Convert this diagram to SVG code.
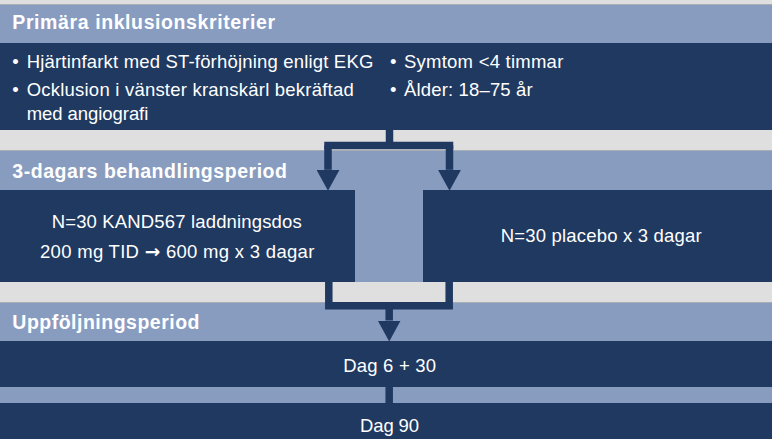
<svg xmlns="http://www.w3.org/2000/svg" width="772" height="439" viewBox="0 0 772 439">
  <defs>
    <style>
      .gray { fill: #dfdfdf; }
      .band { fill: #889cc0; }
      .navy { fill: #1f3960; }
      .edge { stroke: #a8adb5; stroke-width: 1; }
      .hdr { font-family: "Liberation Sans", Arial, Helvetica, sans-serif; font-weight: bold; font-size: 19.5px; fill: #ffffff; }
      .bul { font-family: "Liberation Sans", Arial, Helvetica, sans-serif; font-size: 18.5px; fill: #ffffff; }
      .box { font-family: "Liberation Sans", Arial, Helvetica, sans-serif; font-size: 18.5px; fill: #ffffff; }
      .arr { font-family: "DejaVu Sans", sans-serif; font-weight: bold; }
      .conn { fill: none; stroke: #1f3960; stroke-width: 7.5; stroke-linejoin: miter; }
    </style>
    <marker id="arrow" markerUnits="userSpaceOnUse" markerWidth="21" markerHeight="23" viewBox="0 0 21 23" refX="0" refY="11.5" orient="auto">
      <path d="M0,0 L21,11.5 L0,23 Z" fill="#1f3960"/>
    </marker>
  </defs>

  <rect class="gray" x="0" y="0" width="772" height="439"/>

  <g id="header-inclusion">
    <rect class="band" x="0" y="4" width="772" height="39"/>
    <line class="edge" x1="0" y1="4.5" x2="772" y2="4.5"/>
    <text class="hdr" x="12.3" y="28.8" textLength="262.7" lengthAdjust="spacing">Primära inklusionskriterier</text>
  </g>

  <g id="criteria">
    <rect class="navy" x="0" y="43" width="772" height="87"/>
    <text class="bul" x="12.3" y="67.8">•</text>
    <text class="bul" x="26.7" y="67.8" textLength="346.6" lengthAdjust="spacing">Hjärtinfarkt med ST-förhöjning enligt EKG</text>
    <text class="bul" x="12.3" y="96">•</text>
    <text class="bul" x="26.7" y="96" textLength="327" lengthAdjust="spacing">Ocklusion i vänster kranskärl bekräftad</text>
    <text class="bul" x="26.7" y="120" textLength="121.6" lengthAdjust="spacing">med angiografi</text>
    <text class="bul" x="390" y="67.8">•</text>
    <text class="bul" x="404" y="67.8" textLength="159.3" lengthAdjust="spacing">Symtom &lt;4 timmar</text>
    <text class="bul" x="390" y="96">•</text>
    <text class="bul" x="404" y="96" textLength="128.7" lengthAdjust="spacing">Ålder: 18–75 år</text>
  </g>

  <g id="header-treatment">
    <rect class="band" x="0" y="150" width="772" height="132"/>
    <line class="edge" x1="0" y1="150.5" x2="772" y2="150.5"/>
    <text class="hdr" x="12.3" y="177.8" textLength="274.7" lengthAdjust="spacing">3-dagars behandlingsperiod</text>
  </g>

  <g id="arm-kand567">
    <rect class="navy" x="0" y="190" width="355" height="92"/>
    <text class="box" x="51.7" y="228" textLength="250" lengthAdjust="spacing">N=30 KAND567 laddningsdos</text>
    <text class="box" x="40" y="258.3" textLength="274.3" lengthAdjust="spacing">200 mg TID <tspan class="arr">→</tspan> 600 mg x 3 dagar</text>
  </g>

  <g id="arm-placebo">
    <rect class="navy" x="423" y="190" width="349" height="92"/>
    <text class="box" x="500.7" y="241.7" textLength="201" lengthAdjust="spacing">N=30 placebo x 3 dagar</text>
  </g>

  <g id="header-followup">
    <rect class="band" x="0" y="302" width="772" height="39"/>
    <line class="edge" x1="0" y1="302.5" x2="772" y2="302.5"/>
    <text class="hdr" x="12.3" y="328.5" textLength="187.2" lengthAdjust="spacing">Uppföljningsperiod</text>
  </g>

  <g id="visit-day6-30">
    <rect class="navy" x="0" y="341" width="772" height="46"/>
    <text class="box" x="343.3" y="371.7" textLength="92.7" lengthAdjust="spacing">Dag 6 + 30</text>
  </g>

  <g id="visit-gap">
    <rect class="band" x="0" y="387" width="772" height="16"/>
  </g>

  <g id="visit-day90">
    <rect class="navy" x="0" y="403" width="772" height="36"/>
    <text class="box" x="360" y="431.7" textLength="59" lengthAdjust="spacing">Dag 90</text>
  </g>

  <g id="connectors">
    <path class="conn" d="M389.5,130 V145.5"/>
    <path class="conn" d="M328,145.5 V169.8" marker-end="url(#arrow)"/>
    <path class="conn" d="M449.5,145.5 V169.8" marker-end="url(#arrow)"/>
    <path class="conn" d="M324.25,145.5 H453.25"/>
    <path class="conn" d="M328.8,282 V305.8 H449.2 V282"/>
    <path class="conn" d="M389.2,305.8 V320.5" marker-end="url(#arrow)"/>
    <path class="conn" d="M389.2,387 V403"/>
  </g>
</svg>
